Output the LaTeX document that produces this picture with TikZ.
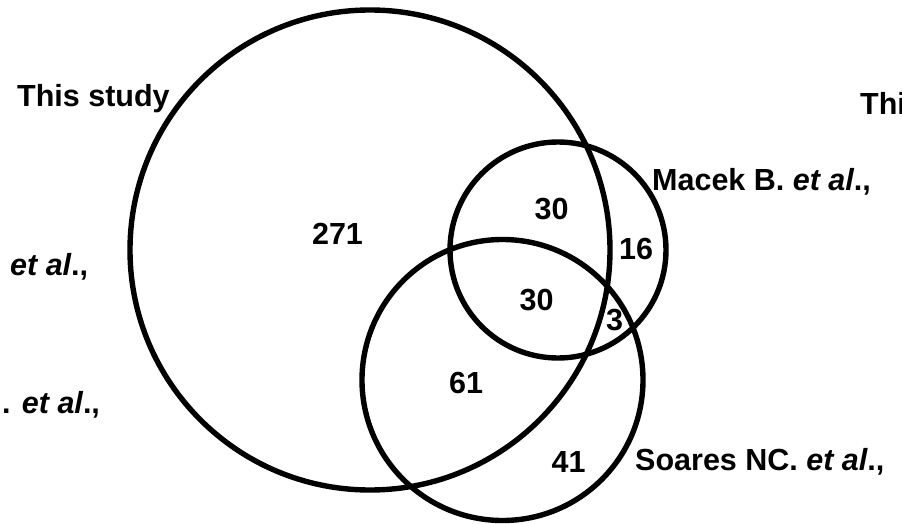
\documentclass[tikz,border=0pt]{standalone}
\usepackage{fontspec}
\setmainfont{Liberation Sans}
\begin{document}
\begin{tikzpicture}[x=1pt,y=-1pt,
  venn/.style={draw, line width=5.4pt, circle, inner sep=0pt, outer sep=0pt},
  lbl/.style={inner sep=0pt, anchor=base west, font=\fontsize{30.5}{36}\selectfont\bfseries},
  num/.style={inner sep=0pt, anchor=base, font=\fontsize{30.5}{36}\selectfont\bfseries}]
\useasboundingbox (0,0) rectangle (902,524);
% circles
\node[venn, minimum size=480pt] (study) at (370,250) {};
\node[venn, minimum size=216pt] (macek) at (558,250) {};
\node[venn, minimum size=281pt] (soares) at (502.5,380) {};
% set labels
\node[lbl] (lstudy) at (17,107) {This study};
\node[lbl] (lleft1) at (10,275) {\textit{et al}.,};
\node[lbl] (lleft2) at (2,413) {. \textit{et al}.,};
\node[lbl] (lright) at (860,115) {Thi};
\node[lbl] (lmacek) at (652,190) {Macek B. \textit{et al}.,};
\node[lbl] (lsoares) at (635,470) {Soares NC. \textit{et al}.,};
% counts
\node[num] (n271) at (337.5,244) {271};
\node[num] (n30a) at (551.5,219) {30};
\node[num] (n16) at (636,259) {16};
\node[num] (n30b) at (536.5,310) {30};
\node[num] (n3) at (614.5,330) {3};
\node[num] (n61) at (466,393) {61};
\node[num] (n41) at (568.5,472) {41};
\end{tikzpicture}
\end{document}
